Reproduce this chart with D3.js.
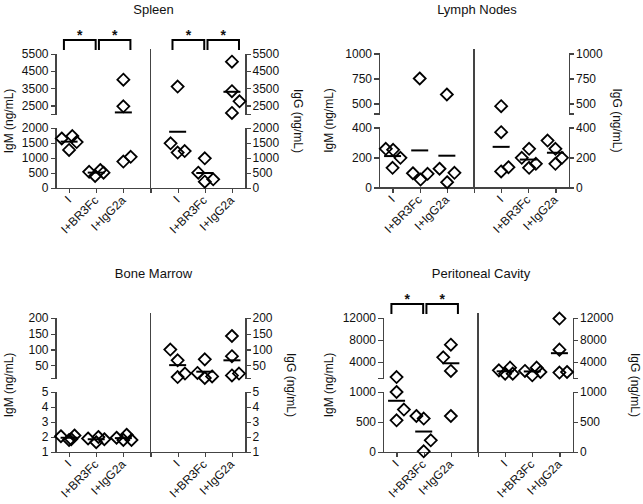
<!DOCTYPE html>
<html>
<head>
<meta charset="utf-8">
<script src="https://cdn.jsdelivr.net/npm/d3@7"></script>
<style>
  body { margin: 0; background: #fff; }
  svg text { font-family: "Liberation Sans", Arial, sans-serif; fill: #111; }
  .axis path, .axis line { stroke: #444; stroke-width: 1.2; shape-rendering: crispEdges; }
  .axis text { font-size: 12px; }
</style>
</head>
<body>
<script>
// groups on each side of the divider
var groups = ["I", "I+BR3Fc", "I+IgG2a"];

// Spleen (ng/mL), one array per group, plus horizontal jitter (category units)
var spleenIgM = [[1650, 1730, 1530, 1270], [540, 400, 600, 510], [4000, 2450, 880, 1040]];
var spleenIgMJit = [[-0.27, 0.12, 0.28, 0], [-0.26, -0.04, 0.15, 0.27], [0, 0, 0, 0.27]];
var spleenIgG = [[3600, 1490, 1180, 1230], [990, 510, 210, 290], [5050, 3330, 2740, 2060]];
var spleenIgGJit = [[0, -0.26, 0, 0.26], [0, -0.24, 0, 0.31], [0, 0, 0.28, 0]];
var spleenLowTicks = [0, 500, 1000, 1500, 2000];
var spleenHighTicks = [2500, 3500, 4500, 5500];

// Lymph nodes
var lymphIgM = [[258, 251, 198, 131], [750, 95, 53, 91], [590, 125, 35, 98]];
var lymphIgMJit = [[-0.25, 0.02, 0.29, 0], [0, -0.25, 0.03, 0.29], [0, -0.27, 0.01, 0.28]];
var lymphIgG = [[473, 369, 107, 135], [198, 258, 131, 158], [313, 258, 198, 158]];
var lymphIgGJit = [[0, 0, 0, 0.27], [-0.24, 0.03, 0.03, 0.28], [-0.29, 0, 0.24, 0]];
var lymphLowTicks = [0, 200, 400];
var lymphHighTicks = [500, 750, 1000];

// Bone marrow
var boneIgM = [[2.05, 1.8, 2.1, 1.85], [1.9, 1.65, 2.0, 1.85], [1.95, 1.8, 2.15, 1.8]];
var boneIgMJit = [[-0.3, 0, 0.2, 0.08], [-0.3, 0, 0.08, 0.3], [-0.25, 0, 0.12, 0.3]];
var boneIgG = [[100, 66, 13, 24], [26, 69, 10, 15], [143, 79, 18, 24]];
var boneIgGJit = [[-0.27, 0, 0, 0.27], [-0.27, 0, 0, 0.27], [0, 0, 0, 0.26]];
var boneLowTicks = [1, 2, 3, 4, 5];
var boneHighTicks = [50, 100, 150, 200];

// Peritoneal cavity
var periIgM = [[1180, 1000, 707, 528], [600, 557, 195, 12], [7100, 4800, 2300, 600]];
var periIgMJit = [[0, 0, 0.27, 0], [-0.27, 0, 0.26, 0], [0, -0.28, 0, 0]];
var periIgG = [[2400, 1800, 2900, 1800], [2300, 1500, 2900, 2100], [11900, 6200, 2000, 2100]];
var periIgGJit = [[-0.23, 0, 0.18, 0.28], [-0.27, 0, 0.16, 0.3], [0, 0, 0, 0.28]];
var periLowTicks = [0, 500, 1000];
var periHighTicks = [4000, 8000, 12000];

// significant comparisons (group index pairs)
var sigPairs = [[0, 1], [1, 2]];

var panels = [
  {title: "Spleen", px: 0, left: 55.5, top: 54, low: [0, 2000], high: [2000, 5500],
   lowTicks: spleenLowTicks, highTicks: spleenHighTicks, igm: spleenIgM, igmJ: spleenIgMJit,
   igg: spleenIgG, iggJ: spleenIgGJit, sig: [true, true], rOff: 48},
  {title: "Lymph Nodes", px: 320, left: 379, top: 53.5, low: [0, 400], high: [400, 1000],
   lowTicks: lymphLowTicks, highTicks: lymphHighTicks, igm: lymphIgM, igmJ: lymphIgMJit,
   igg: lymphIgG, iggJ: lymphIgGJit, sig: [false, false], rOff: 44},
  {title: "Bone Marrow", px: 0, left: 55.5, top: 318, low: [1, 5], high: [10, 200],
   lowTicks: boneLowTicks, highTicks: boneHighTicks, igm: boneIgM, igmJ: boneIgMJit,
   igg: boneIgG, iggJ: boneIgGJit, sig: [false, false], rOff: 41.5},
  {title: "Peritoneal Cavity", px: 320, left: 383, top: 318, low: [0, 1000], high: [1000, 12000],
   lowTicks: periLowTicks, highTicks: periHighTicks, igm: periIgM, igmJ: periIgMJit,
   igg: periIgG, iggJ: periIgGJit, sig: [true, false], rOff: 57.5}
];

var W = 190, segH = 60, gapH = 14, H = segH * 2 + gapH;
var plain = function(d) { return String(d); };

var svg = d3.select("body").append("svg")
    .attr("width", 643)
    .attr("height", 504);

function diamond(r) {
  return "M0," + (-r) + "L" + r + ",0L0," + r + "L" + (-r) + ",0Z";
}

function drawPanel(p) {
  var g = svg.append("g").attr("transform", "translate(" + p.left + "," + p.top + ")");
  var x = d3.scaleLinear().domain([0, 7]).range([0, W]);
  var yHigh = d3.scaleLinear().domain(p.high).range([segH, 0]);
  var yLow = d3.scaleLinear().domain(p.low).range([H, segH + gapH]);
  var y = function(v) {
    return v <= p.low[1] ? yLow(v) : yHigh(Math.max(v, p.high[0]));
  };
  var leftPos = [0.5, 1.5, 2.5], rightPos = [4.5, 5.5, 6.5], divPos = 3.5;

  // y axes, split in two segments
  g.append("g").attr("class", "axis")
    .call(d3.axisLeft(yHigh).tickValues(p.highTicks).tickFormat(plain).tickSize(5).tickSizeOuter(5).tickPadding(2));
  g.append("g").attr("class", "axis")
    .call(d3.axisLeft(yLow).tickValues(p.lowTicks).tickFormat(plain).tickSize(5).tickSizeOuter(5).tickPadding(2));
  g.append("g").attr("class", "axis").attr("transform", "translate(" + W + ",0)")
    .call(d3.axisRight(yHigh).tickValues(p.highTicks).tickFormat(plain).tickSize(5).tickSizeOuter(5).tickPadding(2));
  g.append("g").attr("class", "axis").attr("transform", "translate(" + W + ",0)")
    .call(d3.axisRight(yLow).tickValues(p.lowTicks).tickFormat(plain).tickSize(5).tickSizeOuter(5).tickPadding(2));

  // x axis
  g.append("g").attr("class", "axis").attr("transform", "translate(0," + H + ")")
    .call(d3.axisBottom(x).tickValues(leftPos.concat([divPos], rightPos))
      .tickSize(5).tickSizeOuter(0).tickFormat(""));
  leftPos.concat(rightPos).forEach(function(pos, i) {
    g.append("text")
      .attr("transform", "translate(" + (x(pos) + 3) + "," + (H + 13) + ") rotate(-45)")
      .attr("text-anchor", "end")
      .style("font-size", "12px")
      .text(groups[i % 3]);
  });

  // divider
  g.append("line")
    .attr("x1", x(divPos)).attr("x2", x(divPos))
    .attr("y1", -5).attr("y2", H)
    .attr("stroke", "#444").attr("stroke-width", 1.2)
    .style("shape-rendering", "crispEdges");

  // points and means
  [[p.igm, p.igmJ, leftPos], [p.igg, p.iggJ, rightPos]].forEach(function(set) {
    set[0].forEach(function(vals, gi) {
      var cx = set[2][gi];
      vals.forEach(function(v, k) {
        g.append("path")
          .attr("d", diamond(6))
          .attr("transform", "translate(" + x(cx + set[1][gi][k]) + "," + y(v) + ")")
          .attr("fill", "none")
          .attr("stroke", "#000")
          .attr("stroke-width", 1.8);
      });
      var m = d3.mean(vals);
      g.append("line")
        .attr("x1", x(cx) - 8.5).attr("x2", x(cx) + 8.5)
        .attr("y1", y(m)).attr("y2", y(m))
        .attr("stroke", "#000").attr("stroke-width", 2);
    });
  });

  // significance brackets
  [leftPos, rightPos].forEach(function(pos, side) {
    if (!p.sig[side]) return;
    sigPairs.forEach(function(pair, i) {
      var x1 = x(pos[pair[0]] + (i === 0 ? -0.19 : 0.1));
      var x2 = x(pos[pair[1]] + (i === 0 ? -0.02 : 0.26));
      g.append("path")
        .attr("d", "M" + x1 + ",-4V-14H" + x2 + "V-4")
        .attr("fill", "none").attr("stroke", "#000").attr("stroke-width", 2);
      g.append("text")
        .attr("x", (x1 + x2) / 2).attr("y", -14)
        .attr("text-anchor", "middle")
        .style("font-size", "14px").style("font-weight", "bold")
        .text("*");
    });
  });

  // title
  g.append("text")
    .attr("x", W / 2 + 3).attr("y", -40)
    .attr("text-anchor", "middle")
    .style("font-size", "13px")
    .text(p.title);

  // axis titles
  svg.append("text")
    .attr("transform", "translate(" + (p.px + 12.6) + "," + (p.top + H / 2) + ") rotate(-90)")
    .attr("text-anchor", "middle")
    .style("font-size", "12px")
    .text("IgM (ng/mL)");
  g.append("text")
    .attr("transform", "translate(" + (W + p.rOff) + "," + (H / 2) + ") rotate(90)")
    .attr("text-anchor", "middle")
    .style("font-size", "12px")
    .text("IgG (ng/mL)");
}

panels.forEach(drawPanel);
</script>
</body>
</html>
